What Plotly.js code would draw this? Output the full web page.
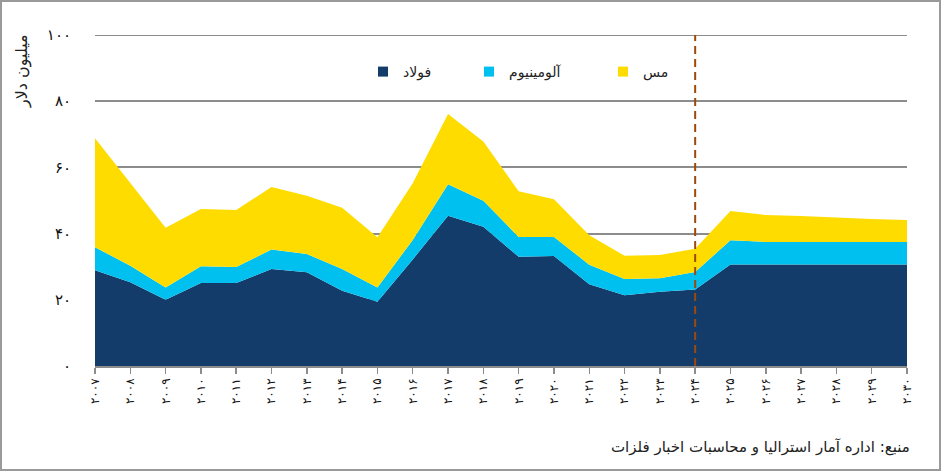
<!DOCTYPE html>
<html>
<head>
<meta charset="utf-8">
<script src="https://cdn.plot.ly/plotly-3.0.1.min.js"></script>
<style>
body { margin: 0; background: #fff; }
#chart { width: 942px; height: 472px; }
</style>
</head>
<body>
<div id="chart"></div>
<script>
// years 2007..2030, values in million dollars
var years = [2007, 2008, 2009, 2010, 2011, 2012, 2013, 2014, 2015, 2016, 2017, 2018,
             2019, 2020, 2021, 2022, 2023, 2024, 2025, 2026, 2027, 2028, 2029, 2030];
var yearLabels = ['۲۰۰۷', '۲۰۰۸', '۲۰۰۹', '۲۰۱۰', '۲۰۱۱', '۲۰۱۲', '۲۰۱۳', '۲۰۱۴', '۲۰۱۵', '۲۰۱۶', '۲۰۱۷', '۲۰۱۸',
                  '۲۰۱۹', '۲۰۲۰', '۲۰۲۱', '۲۰۲۲', '۲۰۲۳', '۲۰۲۴', '۲۰۲۵', '۲۰۲۶', '۲۰۲۷', '۲۰۲۸', '۲۰۲۹', '۲۰۳۰'];
var steel = [28.9, 25.3, 20.0, 25.1, 25.1, 29.3, 28.3, 22.7, 19.4, 32.2, 45.4, 42.1,
             33.0, 33.2, 24.7, 21.4, 22.4, 23.1, 30.7, 30.7, 30.7, 30.7, 30.7, 30.7];
var aluminium = [7.0, 5.0, 3.7, 5.0, 4.8, 5.9, 5.5, 6.6, 4.3, 5.9, 9.5, 7.8,
                 6.0, 5.8, 5.9, 4.9, 4.1, 5.3, 7.3, 6.8, 6.8, 6.8, 6.8, 6.8];
var copper = [32.9, 25.0, 18.1, 17.3, 17.2, 18.9, 17.6, 18.5, 15.2, 17.1, 21.2, 17.9,
              13.8, 11.4, 8.9, 7.0, 7.0, 7.0, 8.8, 8.1, 7.8, 7.4, 6.9, 6.6];
var seriesNames = ['فولاد', 'آلومینیوم', 'مس'];
var seriesColors = ['#133c6b', '#00c0f0', '#ffdc00'];
var yTicks = [0, 20, 40, 60, 80, 100];
var yTickLabels = ['۰', '۲۰', '۴۰', '۶۰', '۸۰', '۱۰۰'];
var forecastYear = 2024;

var FONT = 'DejaVu Sans, Noto Sans, sans-serif';
var allSeries = [steel, aluminium, copper];
var legendIds = ['legend', 'legend2', 'legend3'];
var traces = [];
for (var i = 0; i < allSeries.length; i++)
{
    traces.push({
        x: years,
        y: allSeries[i],
        type: 'scatter',
        mode: 'none',
        stackgroup: 'one',
        fillcolor: seriesColors[i],
        line: {width: 0},
        showlegend: false,
        hoverinfo: 'skip'
    });
}
// legend entries with square markers
for (i = 0; i < allSeries.length; i++)
{
    traces.push({
        x: [years[0]],
        y: [null],
        type: 'scatter',
        mode: 'markers',
        name: seriesNames[i],
        marker: {symbol: 'square', size: 10, color: seriesColors[i]},
        legend: legendIds[i],
        showlegend: true
    });
}

// plot area: left 95, width 812, top 35, height 331
function px2x(p) { return (p - 95) / 812; }
function py2y(p) { return (366 - p) / 331; }

function legendAt(xpix)
{
    return {
        x: px2x(xpix), xanchor: 'left',
        y: py2y(72), yanchor: 'middle',
        orientation: 'h',
        bgcolor: 'rgba(0,0,0,0)',
        borderwidth: 0,
        font: {family: FONT, size: 14, color: '#222'}
    };
}

var layout = {
    width: 942,
    height: 472,
    margin: {l: 95, r: 35, t: 35, b: 106},
    paper_bgcolor: '#fff',
    plot_bgcolor: '#fff',
    showlegend: true,
    legend: legendAt(363),
    legend2: legendAt(469),
    legend3: legendAt(603),
    xaxis: {
        range: [years[0], years[years.length - 1]],
        tickmode: 'array',
        tickvals: years,
        ticktext: yearLabels,
        tickangle: -90,
        ticks: 'outside',
        ticklen: 6,
        tickwidth: 1.5,
        tickcolor: '#8c8c8c',
        showline: true,
        linecolor: '#8c8c8c',
        linewidth: 1.5,
        showgrid: false,
        zeroline: false,
        tickfont: {family: FONT, size: 12, color: '#111'},
        fixedrange: true
    },
    yaxis: {
        range: [0, 100],
        tickmode: 'array',
        tickvals: yTicks,
        ticktext: yTickLabels,
        showgrid: true,
        gridcolor: '#8c8c8c',
        gridwidth: 2,
        showline: false,
        zeroline: false,
        ticks: '',
        ticklabelstandoff: 23,
        tickfont: {family: FONT, size: 15, color: '#111'},
        fixedrange: true
    },
    shapes: [
        {
            // top gridline (plotly skips the one on the plot edge)
            type: 'line', xref: 'paper', yref: 'y', layer: 'below',
            x0: 0, x1: 1, y0: yTicks[yTicks.length - 1], y1: yTicks[yTicks.length - 1],
            line: {color: '#8c8c8c', width: 2}
        },
        {
            type: 'line', xref: 'x', yref: 'y',
            x0: forecastYear, x1: forecastYear, y0: 0, y1: 100,
            line: {color: '#9c4a0c', width: 2, dash: '8px,5px'}
        },
        {
            type: 'rect', xref: 'paper', yref: 'paper',
            x0: px2x(1), x1: px2x(940), y0: py2y(470), y1: py2y(1),
            line: {color: '#9a9a9a', width: 2},
            fillcolor: 'rgba(0,0,0,0)'
        }
    ],
    annotations: [
        {
            text: 'میلیون دلار',
            xref: 'paper', yref: 'paper',
            x: px2x(22), y: py2y(71),
            xanchor: 'center', yanchor: 'middle',
            textangle: -90,
            showarrow: false,
            font: {family: FONT, size: 16, color: '#222'}
        },
        {
            text: 'منبع: اداره آمار استرالیا و محاسبات اخبار فلزات',
            xref: 'paper', yref: 'paper',
            x: px2x(912), y: py2y(447),
            xanchor: 'right', yanchor: 'middle',
            showarrow: false,
            font: {family: FONT, size: 15, color: '#222'}
        }
    ]
};

Plotly.newPlot('chart', traces, layout, {displayModeBar: false, staticPlot: true});
</script>
</body>
</html>
